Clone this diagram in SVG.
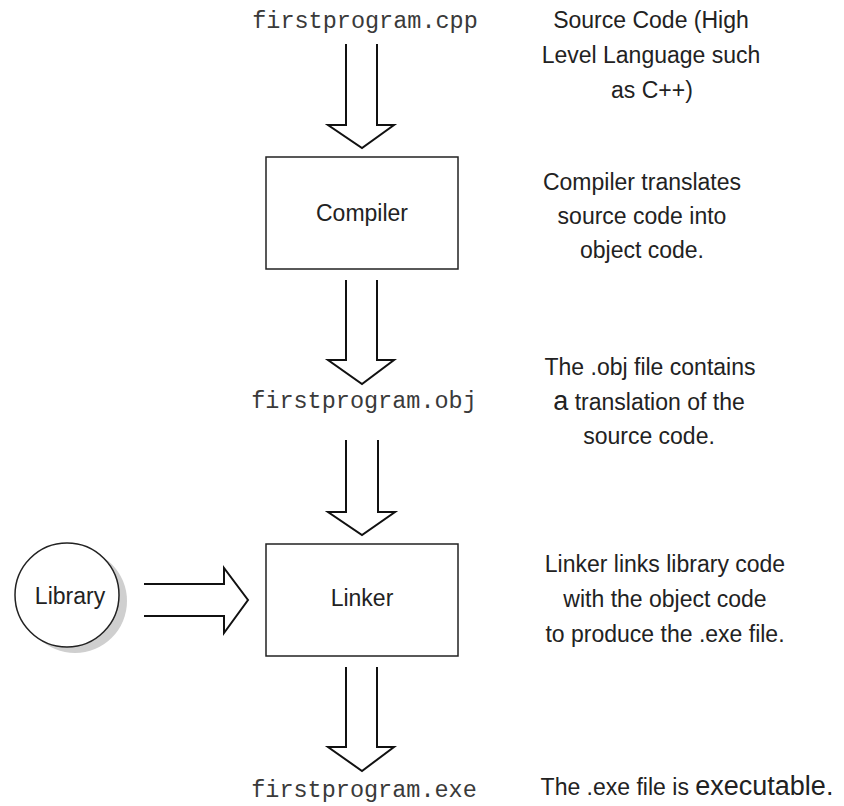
<svg xmlns="http://www.w3.org/2000/svg" width="844" height="806" viewBox="0 0 844 806">
<style>
.box{fill:#fff;stroke:#222;stroke-width:1.5}
.arrow{fill:#fff;stroke:#111;stroke-width:2;stroke-linejoin:miter}
.mono{font-family:"Liberation Mono","Courier New",monospace;font-size:23.5px;fill:#3a3a3a;text-anchor:middle}
.lbl{font-family:"Liberation Sans",Arial,sans-serif;font-size:23px;fill:#222;text-anchor:middle}
</style>
<rect width="844" height="806" fill="#fff"/>
<g id="connectors">
<path class="arrow" d="M346,44 V125 H328 L362,148 L394,125 H377 V44"/>
<path class="arrow" d="M346,280 V360 H328 L362,384 L394,360 H377 V280"/>
<path class="arrow" d="M346,440 V512 H328 L362,535 L395,512 H378 V440"/>
<path class="arrow" d="M346,667 V747 H328 L362,771 L394,747 H377 V667"/>
<path class="arrow" d="M144,584 H224 V568 L248,600 L224,633 V616 H144"/>
</g>
<g id="cpp"><text class="mono" x="365" y="28">firstprogram.cpp</text></g>
<g id="compiler">
<rect class="box" x="266" y="157" width="192" height="112"/>
<text class="lbl" x="362" y="221">Compiler</text>
</g>
<g id="obj"><text class="mono" x="364" y="408">firstprogram.obj</text></g>
<g id="linker">
<rect class="box" x="266" y="544" width="192" height="112"/>
<text class="lbl" x="362" y="606">Linker</text>
</g>
<g id="library">
<circle cx="75" cy="601" r="52" fill="#cfcfcf"/>
<circle cx="67" cy="595" r="52" fill="#fff" stroke="#222" stroke-width="1.5"/>
<text class="lbl" x="70" y="604">Library</text>
</g>
<g id="exe"><text class="mono" x="364" y="797">firstprogram.exe</text></g>
<g id="notes">
<text class="lbl" x="651" y="28">Source Code (High</text>
<text class="lbl" x="651" y="63">Level Language such</text>
<text class="lbl" x="652" y="98">as C++)</text>
<text class="lbl" x="642" y="190">Compiler translates</text>
<text class="lbl" x="642" y="224">source code into</text>
<text class="lbl" x="642" y="258">object code.</text>
<text class="lbl" x="650" y="375">The .obj file contains</text>
<text class="lbl" x="649" y="410"><tspan font-size="27px">a</tspan> translation of the</text>
<text class="lbl" x="649" y="444">source code.</text>
<text class="lbl" x="665" y="572">Linker links library code</text>
<text class="lbl" x="665" y="607">with the object code</text>
<text class="lbl" x="665" y="642">to produce the .exe file.</text>
<text class="lbl" x="687" y="795">The .exe file is <tspan font-size="27px">executable.</tspan></text>
</g>
</svg>
